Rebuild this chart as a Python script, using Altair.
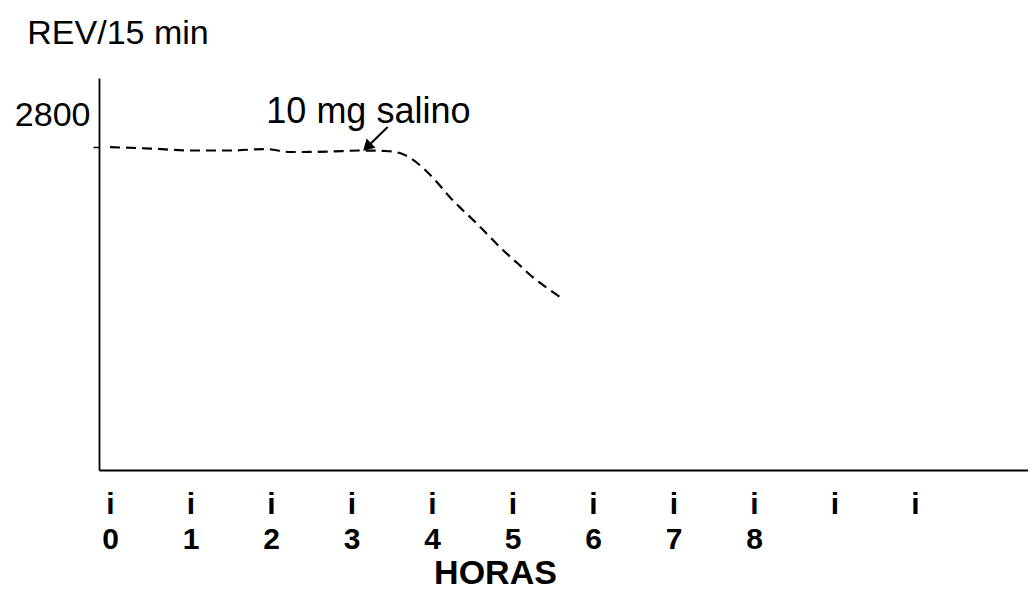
import altair as alt
import pandas as pd

# dashed curve (hours, REV/15 min)
hours = [0, 0.5, 1.0, 1.49, 1.93, 2.24, 2.73, 3.11, 3.42, 3.60, 3.75, 3.89,
         4.06, 4.22, 4.38, 4.55, 4.72, 4.88, 5.06, 5.22, 5.38, 5.59]
rev = [2800, 2788, 2771, 2771, 2784, 2758, 2762, 2771, 2767, 2749, 2697, 2619,
       2498, 2368, 2255, 2142, 2021, 1908, 1795, 1691, 1604, 1500]

x_ticks = list(range(11))
x_labelled_max = 8
y_ticks = [2800]

ann_label = ["10 mg salino"]
ann_hours = [3.21]
ann_rev = [3012]

arrow_hours = [3.45]
arrow_rev = [2975]
arrow_hours2 = [3.21]
arrow_rev2 = [2813]
head_angle = 226

FONT = "Liberation Sans"

df = pd.DataFrame({"hours": hours, "rev": rev})
df_ann = pd.DataFrame({"hours": ann_hours, "rev": ann_rev, "label": ann_label})
df_arrow = pd.DataFrame({"hours": arrow_hours, "rev": arrow_rev,
                         "hours2": arrow_hours2, "rev2": arrow_rev2})
df_head = pd.DataFrame({"hours": arrow_hours2, "rev": arrow_rev2})

xscale = alt.Scale(domain=[-0.1366, 11.404], nice=False, zero=False)
yscale = alt.Scale(domain=[0, 3400], nice=False, zero=False)

xaxis = alt.Axis(
    values=x_ticks, ticks=False, grid=False, format="d",
    domainColor="black", domainWidth=2,
    labelFont=FONT, labelFontWeight="bold", labelFontSize=30, labelColor="black",
    labelPadding=19, labelLineHeight=35, labelBaseline="top",
    labelFlush=False, labelOverlap=False, labelBound=False,
    labelExpr=f"['i', datum.value <= {x_labelled_max} ? datum.label : '']",
    title="HORAS", titleFont=FONT, titleFontSize=34, titleFontWeight="bold",
    titleColor="black", titleX=396, titleY=113, titleAlign="center",
    titleBaseline="alphabetic",
)
yaxis = alt.Axis(
    values=y_ticks, grid=False, format="d",
    domainColor="black", domainWidth=1.8,
    tickColor="black", tickWidth=1.5, tickSize=6,
    labelFont=FONT, labelFontSize=34, labelColor="black",
    labelPadding=3, labelOffset=-32,
    title="REV/15 min", titleFont=FONT, titleFontSize=34, titleFontWeight="normal",
    titleColor="black", titleAngle=0, titleX=18.5, titleY=-35,
    titleAlign="center", titleBaseline="alphabetic",
)

line = alt.Chart(df).mark_line(
    color="black", strokeDash=[10, 6], strokeWidth=2.2, interpolate="monotone"
).encode(
    x=alt.X("hours:Q", scale=xscale, axis=xaxis),
    y=alt.Y("rev:Q", scale=yscale, axis=yaxis),
)

text = alt.Chart(df_ann).mark_text(
    font=FONT, fontSize=36, color="black", align="center", baseline="alphabetic"
).encode(x="hours:Q", y="rev:Q", text="label:N")

arrow = alt.Chart(df_arrow).mark_rule(color="black", strokeWidth=2).encode(
    x="hours:Q", y="rev:Q", x2="hours2:Q", y2="rev2:Q"
)

head = alt.Chart(df_head).mark_point(
    shape="triangle", filled=True, color="black", size=160, angle=head_angle, opacity=1
).encode(x="hours:Q", y="rev:Q")

chart = alt.layer(line, text, arrow, head).properties(
    width=929, height=392,
    padding={"left": 91, "top": 70, "right": 0, "bottom": 119},
    autosize=alt.AutoSizeParams(type="none"),
    background="white",
).configure_view(stroke=None)

chart.save("out.html", embed_options={"renderer": "svg", "actions": False})
